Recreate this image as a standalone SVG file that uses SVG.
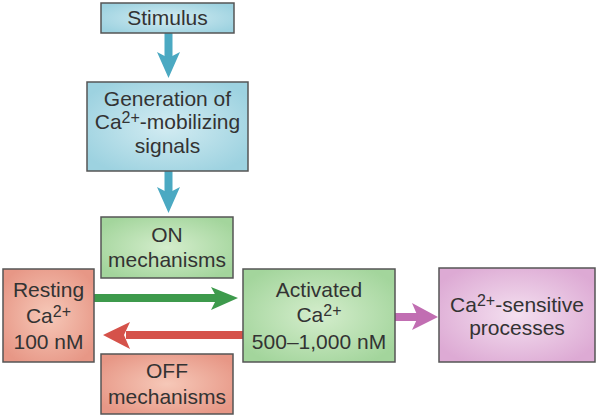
<svg xmlns="http://www.w3.org/2000/svg" width="598" height="418" viewBox="0 0 598 418">
<defs>
<radialGradient id="gBlue" cx="50%" cy="50%" r="60%"><stop offset="0" stop-color="#d3ecf2"/><stop offset="1" stop-color="#9dd2e0"/></radialGradient>
<radialGradient id="gGreen" cx="50%" cy="50%" r="60%"><stop offset="0" stop-color="#d4edcc"/><stop offset="1" stop-color="#a3d59c"/></radialGradient>
<radialGradient id="gRed" cx="50%" cy="50%" r="60%"><stop offset="0" stop-color="#f6c8b8"/><stop offset="1" stop-color="#e79786"/></radialGradient>
<radialGradient id="gPurple" cx="50%" cy="50%" r="60%"><stop offset="0" stop-color="#f4e0f0"/><stop offset="1" stop-color="#ddaad4"/></radialGradient>
</defs>
<style>
rect{stroke:#555;stroke-width:1.5}
text{font-family:"Liberation Sans",Arial,sans-serif;font-size:21px;fill:#333;text-anchor:middle}
.sup{font-size:16px}
.blue{fill:url(#gBlue)}
.green{fill:url(#gGreen)}
.red{fill:url(#gRed)}
.purple{fill:url(#gPurple)}
</style>
<rect width="598" height="418" fill="#fff" style="stroke:none"/>
<g id="connectors">
<g fill="#4ba9c2">
<rect x="164.5" y="33" width="8" height="26" style="stroke:none"/>
<polygon points="157,52 168.5,58 180,52 168.5,78"/>
<rect x="164.5" y="171" width="8" height="22" style="stroke:none"/>
<polygon points="157,187 168.5,193 180,187 168.5,213"/>
</g>
<g fill="#3d9a4c">
<rect x="94" y="294" width="124" height="8" style="stroke:none"/>
<polygon points="211,287 217,298 211,310 238,298"/>
</g>
<g fill="#d5524a">
<rect x="126" y="331" width="117" height="8" style="stroke:none"/>
<polygon points="130,322 124,335 130,349 103,335"/>
</g>
<g fill="#c16eb2">
<rect x="395" y="313" width="24" height="8" style="stroke:none"/>
<polygon points="412,303 418,317 412,330 438,317"/>
</g>
</g>
<g id="stimulus">
<rect class="blue" x="101" y="3" width="133" height="30"/>
<text x="167.5" y="25">Stimulus</text>
</g>
<g id="generation">
<rect class="blue" x="87" y="82" width="161" height="89"/>
<text x="167.5" y="106">Generation of</text>
<text x="167.5" y="129">Ca<tspan class="sup" dy="-6">2+</tspan><tspan dy="6">-mobilizing</tspan></text>
<text x="167.5" y="153">signals</text>
</g>
<g id="on">
<rect class="green" x="101" y="217" width="132" height="61"/>
<text x="167" y="242">ON</text>
<text x="167" y="267">mechanisms</text>
</g>
<g id="resting">
<rect class="red" x="3" y="269" width="91" height="93"/>
<text x="48.5" y="297">Resting</text>
<text x="48.5" y="323">Ca<tspan class="sup" dy="-6">2+</tspan></text>
<text x="48.5" y="349">100 nM</text>
</g>
<g id="activated">
<rect class="green" x="243" y="269" width="152" height="93"/>
<text x="319" y="297">Activated</text>
<text x="319" y="322">Ca<tspan class="sup" dy="-6">2+</tspan></text>
<text x="319" y="349">500–1,000 nM</text>
</g>
<g id="sensitive">
<rect class="purple" x="439" y="268" width="156" height="94"/>
<text x="517" y="312">Ca<tspan class="sup" dy="-6">2+</tspan><tspan dy="6">-sensitive</tspan></text>
<text x="517" y="335">processes</text>
</g>
<g id="off">
<rect class="red" x="101" y="354" width="132" height="60"/>
<text x="167" y="378">OFF</text>
<text x="167" y="404">mechanisms</text>
</g>
</svg>
